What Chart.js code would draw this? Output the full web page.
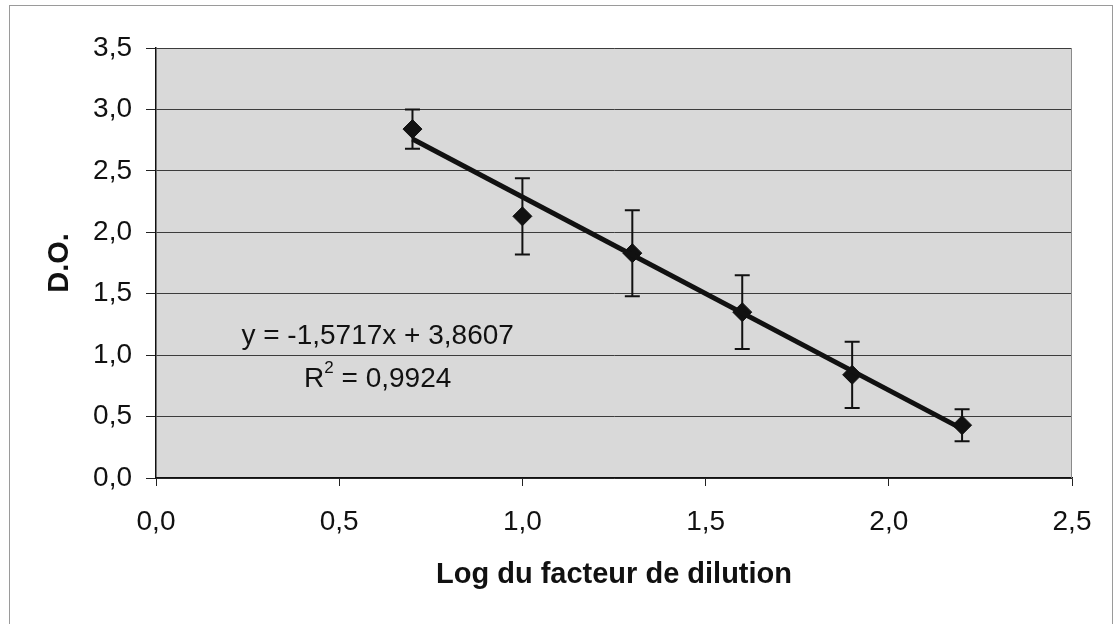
<!DOCTYPE html>
<html>
<head>
<meta charset="utf-8">
<script src="https://cdn.jsdelivr.net/npm/chart.js@4/dist/chart.umd.min.js"></script>
<style>
  html, body { margin: 0; padding: 0; background: #fff; }
  #wrap { width: 1116px; height: 624px; }
</style>
</head>
<body>
<div id="wrap"><canvas id="chart" width="1116" height="624"></canvas></div>
<script>
// Log of dilution factor vs optical density (D.O.)
const logDilution = [0.7, 1.0, 1.3, 1.6, 1.9, 2.2];
const opticalDensity = [2.84, 2.13, 1.83, 1.35, 0.84, 0.43];
const errorBars = [0.16, 0.31, 0.35, 0.30, 0.27, 0.13];

// linear trendline end points (Excel trendline)
const trendX = [0.7, 2.2];
const trendY = [2.76, 0.40];

const equationText = 'y = -1,5717x + 3,8607';
const r2Value = '0,9924';
// where the equation label sits, in axis units
const labelX = 0.605;
const labelY = [1.15, 0.80];

const FONT = "'Liberation Sans', Arial, sans-serif";
const fmt = v => v.toFixed(1).replace('.', ',');

// frame + grey plot area
const backgroundPlugin = {
  id: 'background',
  beforeDraw(chart) {
    const { ctx, chartArea: a } = chart;
    ctx.save();
    ctx.fillStyle = '#fff';
    ctx.fillRect(0, 0, chart.width, chart.height);
    ctx.strokeStyle = '#9a9a9a';
    ctx.lineWidth = 1;
    ctx.strokeRect(9.5, 5.5, chart.width - 13, chart.height - 4);
    ctx.fillStyle = '#d9d9d9';
    ctx.fillRect(a.left, a.top, a.right - a.left, a.bottom - a.top);
    ctx.restore();
  },
  beforeDatasetsDraw(chart) {
    const { ctx, chartArea: a } = chart;
    ctx.save();
    ctx.strokeStyle = '#8a8a8a';
    ctx.lineWidth = 1;
    ctx.beginPath();
    ctx.moveTo(a.right - 0.5, a.top);
    ctx.lineTo(a.right - 0.5, a.bottom);
    ctx.stroke();
    ctx.restore();
  }
};

// vertical error bars with caps
const errorBarPlugin = {
  id: 'errorBars',
  beforeDatasetsDraw(chart) {
    const { ctx, scales: { x, y } } = chart;
    ctx.save();
    ctx.strokeStyle = '#111';
    ctx.lineWidth = 2;
    logDilution.forEach((lx, i) => {
      const px = x.getPixelForValue(lx);
      const top = y.getPixelForValue(opticalDensity[i] + errorBars[i]);
      const bot = y.getPixelForValue(opticalDensity[i] - errorBars[i]);
      ctx.beginPath();
      ctx.moveTo(px, top);
      ctx.lineTo(px, bot);
      ctx.moveTo(px - 7.5, top);
      ctx.lineTo(px + 7.5, top);
      ctx.moveTo(px - 7.5, bot);
      ctx.lineTo(px + 7.5, bot);
      ctx.stroke();
    });
    ctx.restore();
  }
};

// trendline equation and R²
const equationPlugin = {
  id: 'equation',
  afterDatasetsDraw(chart) {
    const { ctx, scales: { x, y } } = chart;
    const cx = x.getPixelForValue(labelX);
    ctx.save();
    ctx.fillStyle = '#111';
    ctx.textBaseline = 'middle';
    ctx.font = '28px ' + FONT;
    ctx.textAlign = 'center';
    ctx.fillText(equationText, cx, y.getPixelForValue(labelY[0]));

    // R² line, built from pieces so the 2 can be raised
    const y2 = y.getPixelForValue(labelY[1]);
    const rest = ' = ' + r2Value;
    const wR = ctx.measureText('R').width;
    const wRest = ctx.measureText(rest).width;
    ctx.font = '17px ' + FONT;
    const wSup = ctx.measureText('2').width;
    let left = cx - (wR + wSup + wRest) / 2;
    ctx.textAlign = 'left';
    ctx.font = '28px ' + FONT;
    ctx.fillText('R', left, y2);
    ctx.font = '17px ' + FONT;
    ctx.fillText('2', left + wR, y2 - 11);
    ctx.font = '28px ' + FONT;
    ctx.fillText(rest, left + wR + wSup, y2);
    ctx.restore();
  }
};

new Chart(document.getElementById('chart'), {
  type: 'scatter',
  data: {
    datasets: [
      {
        label: 'D.O.',
        data: logDilution.map((v, i) => ({ x: v, y: opticalDensity[i] })),
        pointStyle: 'rectRot',
        pointRadius: 9.5,
        pointBackgroundColor: '#111',
        pointBorderColor: '#111',
        pointBorderWidth: 1,
        showLine: false,
        order: 2
      },
      {
        type: 'line',
        label: 'Linéaire',
        data: trendX.map((v, i) => ({ x: v, y: trendY[i] })),
        borderColor: '#111',
        borderWidth: 5,
        pointRadius: 0,
        fill: false,
        tension: 0,
        order: 1
      }
    ]
  },
  options: {
    responsive: false,
    animation: false,
    devicePixelRatio: 1,
    layout: { padding: { left: 40, top: 48, right: 44, bottom: 20 } },
    plugins: {
      legend: { display: false },
      tooltip: { enabled: false }
    },
    scales: {
      x: {
        type: 'linear',
        min: 0,
        max: 2.5,
        afterFit: s => { s.height = 126; },
        ticks: {
          stepSize: 0.5,
          callback: v => fmt(v),
          color: '#111',
          font: { family: FONT, size: 28 },
          padding: 19
        },
        grid: {
          drawOnChartArea: false,
          drawTicks: true,
          tickLength: 8,
          tickColor: '#222',
          tickWidth: 1
        },
        border: { display: true, color: '#111', width: 1.5 },
        title: {
          display: true,
          text: 'Log du facteur de dilution',
          color: '#111',
          font: { family: FONT, size: 29, weight: 'bold' },
          padding: { top: 0, bottom: 12 }
        }
      },
      y: {
        type: 'linear',
        min: 0,
        max: 3.5,
        afterFit: s => { s.width = 116; },
        ticks: {
          stepSize: 0.5,
          callback: v => fmt(v),
          color: '#111',
          font: { family: FONT, size: 28 },
          padding: 14
        },
        grid: {
          color: '#3c3c3c',
          lineWidth: 1,
          drawTicks: true,
          tickLength: 10,
          tickColor: '#222'
        },
        border: { display: true, color: '#111', width: 1.5 },
        title: {
          display: true,
          text: 'D.O.',
          color: '#111',
          font: { family: FONT, size: 29, weight: 'bold' },
          padding: { top: 3, bottom: 0 }
        }
      }
    }
  },
  plugins: [backgroundPlugin, errorBarPlugin, equationPlugin]
});
</script>
</body>
</html>
